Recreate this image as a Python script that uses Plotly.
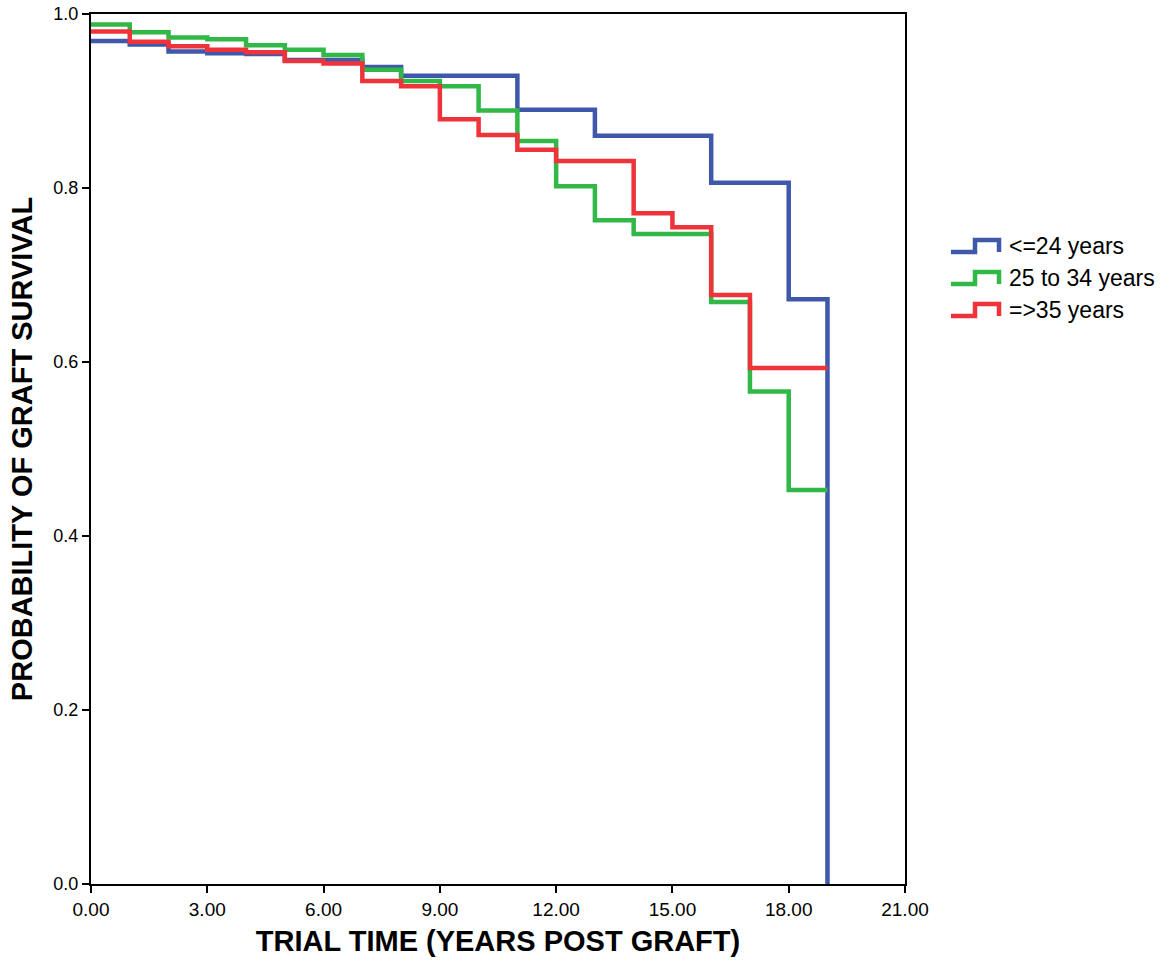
import plotly.graph_objects as go

# Data
blue_t = [0, 1, 2, 3, 4, 5, 7, 8, 11, 13, 16, 18, 19]
blue_s = [0.969, 0.965, 0.957, 0.955, 0.954, 0.947, 0.939, 0.929, 0.890, 0.860, 0.806, 0.672, 0.0]

green_t = [0, 1, 2, 3, 4, 5, 6, 7, 8, 9, 10, 11, 12, 13, 14, 16, 17, 18, 19]
green_s = [0.988, 0.979, 0.973, 0.971, 0.964, 0.959, 0.953, 0.936, 0.923, 0.917, 0.889,
           0.854, 0.802, 0.763, 0.747, 0.669, 0.566, 0.453, 0.453]

red_t = [0, 1, 2, 3, 4, 5, 6, 7, 8, 9, 10, 11, 12, 14, 15, 16, 17, 19]
red_s = [0.980, 0.968, 0.963, 0.959, 0.956, 0.946, 0.943, 0.923, 0.917, 0.879, 0.861,
         0.844, 0.831, 0.771, 0.755, 0.677, 0.593, 0.593]

series_names = ["<=24 years", "25 to 34 years", "=>35 years"]
colors = ["#3F58AA", "#31B846", "#EE333B"]

x_ticks = [0, 3, 6, 9, 12, 15, 18, 21]
y_ticks = [0.0, 0.2, 0.4, 0.6, 0.8, 1.0]

FONT = "Arial, Liberation Sans, sans-serif"

fig = go.Figure()
for t, s, name, c in zip([blue_t, green_t, red_t], [blue_s, green_s, red_s], series_names, colors):
    fig.add_trace(go.Scatter(x=t, y=s, mode="lines", line=dict(shape="hv", color=c, width=4.5),
                             name=name, showlegend=False))

# Manual legend with step glyphs
legend_y = [0.7333, 0.6966, 0.6598]  # paper coords for rows
for name, c, ly in zip(series_names, colors, legend_y):
    x0, x1, x2 = 1.0565, 1.0860, 1.1155
    dy = 0.0138
    fig.add_shape(type="path", xref="paper", yref="paper",
                  path=f"M {x0},{ly - dy/2} L {x1},{ly - dy/2} L {x1},{ly + dy/2} L {x2},{ly + dy/2} L {x2},{ly - dy/2}",
                  line=dict(color=c, width=4.5))
    fig.add_annotation(xref="paper", yref="paper", x=1.1253, y=ly, text=name, showarrow=False,
                       xanchor="left", yanchor="middle", font=dict(family=FONT, size=23, color="black"))

fig.update_layout(
    width=1169, height=967,
    margin=dict(l=91, r=264, t=14, b=83, autoexpand=False),
    paper_bgcolor="white", plot_bgcolor="white",
    font=dict(family=FONT, color="black"),
)
fig.update_xaxes(range=[0, 21], tickvals=x_ticks, ticktext=[f"{v:.2f}" for v in x_ticks],
                 showgrid=False, zeroline=False, showline=True, linecolor="black", linewidth=2,
                 mirror=True, ticks="outside", ticklen=7, tickwidth=2, tickcolor="black",
                 automargin=False, ticklabeloverflow="allow",
                 tickfont=dict(size=19), title=dict(text="<b>TRIAL TIME (YEARS POST GRAFT)</b>",
                                                    font=dict(size=29), standoff=12))
fig.update_yaxes(range=[0, 1], tickvals=y_ticks, ticktext=[f"{v:.1f}" for v in y_ticks],
                 showgrid=False, zeroline=False, showline=True, linecolor="black", linewidth=2,
                 mirror=True, ticks="outside", ticklen=7, tickwidth=2, tickcolor="black",
                 automargin=False, ticklabeloverflow="allow",
                 tickfont=dict(size=18), title=dict(text="<b>PROBABILITY OF GRAFT SURVIVAL</b>",
                                                    font=dict(size=29), standoff=12))

fig.write_html("out.html", config={"displayModeBar": False},
               post_script="document.body.style.margin='0';document.body.style.overflow='hidden';")
